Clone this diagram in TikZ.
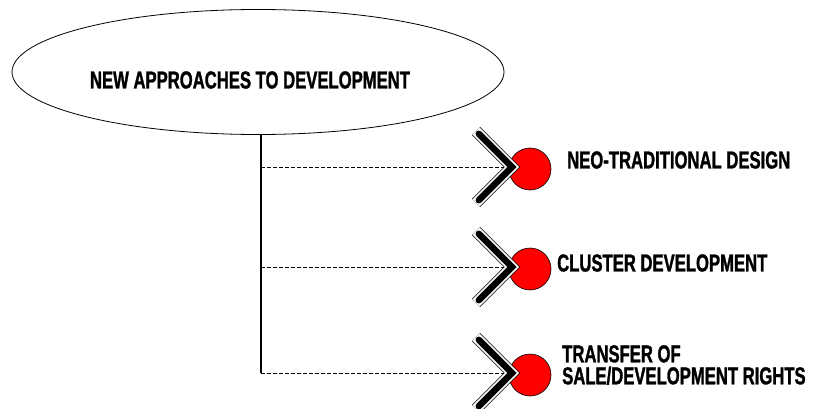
\documentclass[tikz,border=0pt]{standalone}
\usepackage{fontspec}
\newfontfamily\boxfont{Liberation Sans}[FakeStretch=0.68,FakeBold=1.2]
\usepackage{tikz}
\usetikzlibrary{calc,positioning,shapes}

\tikzset{
  txt/.style={font=\boxfont\bfseries\fontsize{24.5}{22}\selectfont,inner sep=0pt},
  trunk/.style={line width=2pt},
  branch/.style={line width=0.8pt,dash pattern=on 4pt off 2pt},
  ball/.style={circle,draw=black,line width=0.6pt,fill=red,minimum size=42pt,inner sep=0pt},
}

\begin{document}
\begin{tikzpicture}[x=1pt,y=-1pt]
\useasboundingbox (0,0) rectangle (835,409);

\node (root) at (258,72) [ellipse,draw,line width=0.8pt,minimum width=492pt,minimum height=125pt] {};
\node (title) at (250,80) [txt] {NEW APPROACHES TO DEVELOPMENT};

\coordinate (top) at (261,134);
\coordinate (b1) at (261,167);
\coordinate (b2) at (261,267);
\coordinate (b3) at (261,373);
\draw[trunk] (top) -- (b3);

\foreach \y/\n in {167/1,267/2,373/3}{
  \coordinate (tip\n) at (512,\y);
  \draw[branch] (b\n) -- (tip\n);
  \node (ball\n) at (530,\y+2) [ball] {};
  % chevron: border, white band, black bar
  \draw[line width=11.5pt,miter limit=4] (476,\y-36) -- (tip\n) -- (476,\y+36);
  \draw[line width=10pt,white,miter limit=4] (476,\y-36) -- (tip\n) -- (476,\y+36);
  \draw[line width=6.5pt,line cap=round,shorten <=4pt,shorten >=4pt] (476,\y-36) -- (tip\n) -- (476,\y+36);
}

\node (neo) at (567,160) [txt,anchor=west] {NEO-TRADITIONAL DESIGN};
\node (cluster) at (557,263) [txt,anchor=west] {CLUSTER DEVELOPMENT};
\node (transfer) at (562,365) [txt,anchor=west,align=left] {TRANSFER OF\\SALE/DEVELOPMENT RIGHTS};

\end{tikzpicture}
\end{document}
